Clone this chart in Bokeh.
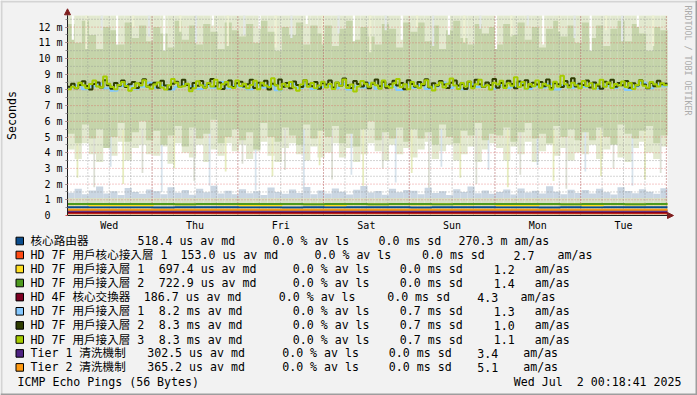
import math
from bokeh.plotting import figure
from bokeh.models import Range1d, FixedTicker, Arrow, NormalHead, LinearAxis
from bokeh.core.properties import value
from bokeh.embed import file_html
from bokeh.resources import INLINE

# ---------------- data ----------------
# time axis: hours since Wed 2025-06-25 00:00 ; graph spans 7 days ending Wed Jul 2 00:18:41
T_START = 0.3114
T_END = 168.3114
day_names = ["Wed", "Thu", "Fri", "Sat", "Sun", "Mon", "Tue"]
day_noons = [12, 36, 60, 84, 108, 132, 156]
midnights = [24, 48, 72, 96, 120, 144, 168]
six_hours = [6 * k for k in range(1, 29)]

Y_TOP = 12.74
y_ticks = list(range(13))
y_tick_labels = ["0\u00a0\u00a0"] + ["%d m" % v for v in range(1, 13)]
y_half = [0.5 * k for k in range(1, 26)]

SMOKE_DT = 2.0  # hours per smoke bin
sage_lo = [5.2, 4.6, 5.8, 4.9, 5.5, 4.3, 5.0, 5.9, 4.7, 5.3, 6.0, 4.8,
           5.4, 4.5, 5.1, 5.7, 4.4, 5.6, 4.9, 5.2, 6.1, 4.6, 5.0, 5.5,
           4.8, 5.3, 4.2, 5.9, 5.0, 4.7, 5.6, 5.1, 4.5, 5.8, 4.9, 5.4,
           5.0, 5.7, 4.6, 5.2, 4.4, 5.5, 6.0, 4.8, 5.3, 4.9, 5.6, 4.7,
           5.5, 4.9, 5.3, 4.5, 5.8, 5.0, 4.6, 5.4, 5.1, 5.9, 4.8, 5.2,
           5.1, 5.6, 4.7, 5.3, 5.9, 4.9, 5.2, 4.6, 5.7, 5.0, 5.5, 4.8,
           5.3, 4.8, 5.6, 5.0, 4.5, 5.8, 5.2, 4.9, 5.4, 5.7, 4.6, 5.1]
sage_hi = [12.2, 11.0, 12.4, 11.5, 10.6, 12.0, 11.8, 10.9, 12.3, 11.3, 12.1, 11.1,
           12.0, 11.6, 10.7, 12.4, 11.2, 12.1, 10.9, 12.2, 11.7, 10.6, 12.3, 11.8,
           11.4, 12.2, 11.0, 12.4, 11.7, 10.5, 12.0, 11.5, 12.3, 10.9, 12.1, 11.6,
           12.1, 10.8, 11.9, 12.4, 11.2, 12.0, 11.4, 10.9, 12.2, 11.9, 10.7, 12.3,
           11.7, 12.3, 11.1, 12.1, 10.6, 11.8, 12.4, 11.3, 10.9, 12.2, 11.6, 12.0,
           10.9, 12.2, 11.5, 12.3, 11.2, 12.0, 10.7, 11.9, 12.4, 11.4, 12.1, 11.0,
           12.3, 11.3, 12.1, 10.8, 11.9, 12.4, 11.1, 12.2, 11.6, 10.5, 12.0, 11.8]
pale_lo = [4.2, 3.6, 4.6, 3.9, 3.4, 4.4, 3.8, 4.7, 3.5, 4.3, 4.5, 3.9,
           3.8, 4.4, 3.3, 4.6, 4.0, 3.7, 4.5, 3.4, 4.2, 3.8, 4.6, 4.1,
           4.5, 3.6, 4.1, 4.7, 3.8, 3.4, 4.3, 4.6, 3.9, 3.5, 4.4, 3.7,
           4.0, 4.6, 3.7, 4.3, 3.4, 3.9, 4.6, 4.1, 3.5, 4.5, 3.9, 4.3,
           3.7, 4.2, 4.7, 3.6, 4.1, 4.5, 3.5, 3.9, 4.4, 3.4, 4.2, 4.6,
           4.3, 3.5, 4.4, 3.9, 4.7, 3.4, 4.1, 4.5, 3.8, 4.3, 3.5, 4.0,
           3.9, 4.5, 3.6, 4.2, 4.6, 3.7, 3.4, 4.3, 4.7, 4.0, 3.6, 4.4]
# thin deep spikes of the light smoke (time in h, lowest value in ms)
spike_t = [3.1, 7.8, 12.4, 15.9, 21.3, 26.7, 30.2, 35.8, 40.1, 44.6, 49.3, 53.0, 57.7,
           61.2, 66.5, 70.9, 74.4, 79.8, 83.1, 88.6, 92.2, 96.7, 101.5, 105.0, 110.3,
           114.8, 118.2, 123.6, 127.1, 131.9, 136.4, 140.0, 145.3, 149.7, 153.2, 158.5,
           162.0, 166.4]
spike_lo = [2.4, 1.8, 3.1, 2.0, 2.7, 1.5, 3.0, 2.2, 1.9, 2.8, 3.3, 1.6, 2.5,
            2.9, 1.7, 3.2, 2.3, 2.6, 1.9, 3.0, 2.1, 2.7, 1.6, 3.1, 2.4,
            2.0, 2.9, 1.8, 2.6, 3.2, 2.2, 1.7, 2.8, 2.5, 3.0, 1.9,
            2.3, 2.7]
# thin light gaps in the upper smoke (time in h, lower end in ms)
gap_t = [1.8, 5.6, 9.9, 14.2, 18.7, 23.1, 27.4, 31.9, 36.3, 41.0, 45.2, 49.8, 54.1,
         58.6, 63.0, 67.3, 71.8, 76.2, 80.5, 85.1, 89.4, 93.9, 98.2, 102.7, 107.1,
         111.4, 115.9, 120.3, 124.6, 129.2, 133.5, 138.0, 142.3, 146.8, 151.1, 155.6,
         160.0, 164.3]
gap_lo = [11.2, 10.6, 11.8, 10.9, 12.0, 11.4, 10.5, 11.7, 11.0, 12.1, 10.8, 11.5, 11.9,
          10.7, 11.3, 12.2, 10.9, 11.6, 11.1, 10.4, 11.8, 11.2, 12.0, 10.8, 11.5,
          11.0, 11.9, 10.6, 11.4, 12.1, 10.9, 11.7, 11.3, 10.5, 11.8, 11.1,
          12.0, 10.8]
low_smoke_top = 1.12
blue_hi = [1.45, 1.70, 1.35, 1.60, 1.85, 1.40, 1.55, 1.30, 1.75, 1.50, 1.38, 1.65,
           1.55, 1.35, 1.80, 1.45, 1.62, 1.32, 1.70, 1.48, 1.90, 1.40, 1.58, 1.36,
           1.68, 1.42, 1.55, 1.30, 1.78, 1.50, 1.38, 1.66, 1.44, 1.82, 1.35, 1.60,
           1.40, 1.72, 1.52, 1.34, 1.64, 1.88, 1.46, 1.56, 1.32, 1.70, 1.48, 1.62,
           1.58, 1.36, 1.76, 1.44, 1.54, 1.30, 1.68, 1.50, 1.84, 1.42, 1.60, 1.38,
           1.50, 1.66, 1.34, 1.72, 1.46, 1.58, 1.40, 1.86, 1.52, 1.36, 1.64, 1.44,
           1.62, 1.40, 1.70, 1.48, 1.34, 1.80, 1.56, 1.42, 1.68, 1.52, 1.38, 1.74]

# medians (ms) of the three ~8 ms targets
MED1_DT = 2.0
med_acc1 = [8.15, 8.30, 8.05, 8.22, 8.40, 8.10, 7.95, 8.25, 8.35, 8.08, 8.20, 8.45,
            8.12, 8.28, 8.02, 8.18, 8.36, 8.24, 8.06, 8.32, 8.14, 8.50, 8.10, 8.26,
            8.20, 8.04, 8.34, 8.16, 8.28, 7.98, 8.22, 8.40, 8.12, 8.30, 8.06, 8.18,
            8.26, 8.10, 8.38, 8.02, 8.24, 8.16, 8.44, 8.08, 8.30, 8.20, 8.00, 8.34,
            8.14, 8.32, 8.06, 8.22, 8.48, 8.12, 8.26, 8.04, 8.36, 8.18, 8.28, 8.08,
            8.30, 8.12, 8.20, 8.42, 8.06, 8.24, 8.16, 8.38, 8.02, 8.28, 8.14, 8.34,
            8.18, 8.40, 8.08, 8.26, 8.12, 8.32, 8.00, 8.22, 8.46, 8.10, 8.36, 8.24]
MED_DT = 1.0
med_acc2 = [8.20, 8.40, 8.10, 8.32, 8.55, 8.25, 8.02, 8.38, 8.48, 8.15, 8.62, 8.30,
            8.08, 8.44, 8.26, 8.60, 8.18, 8.36, 8.50, 8.12, 8.42, 8.68, 8.22, 8.34,
            8.46, 8.14, 8.58, 8.28, 8.04, 8.40, 8.52, 8.20, 8.64, 8.32, 8.10, 8.44,
            8.26, 8.56, 8.16, 8.38, 8.70, 8.24, 8.48, 8.06, 8.34, 8.60, 8.18, 8.42,
            8.52, 8.22, 8.36, 8.64, 8.12, 8.46, 8.28, 8.58, 8.02, 8.40, 8.30, 8.66,
            8.20, 8.44, 8.10, 8.54, 8.32, 8.18, 8.62, 8.36, 8.24, 8.50, 8.08, 8.42,
            8.34, 8.60, 8.16, 8.46, 8.26, 8.72, 8.30, 8.12, 8.56, 8.38, 8.22, 8.48,
            8.10, 8.40, 8.66, 8.24, 8.52, 8.14, 8.36, 8.58, 8.28, 8.44, 8.04, 8.62,
            8.38, 8.20, 8.50, 8.30, 8.68, 8.16, 8.42, 8.26, 8.56, 8.34, 8.12, 8.46,
            8.60, 8.28, 8.40, 8.06, 8.52, 8.22, 8.64, 8.36, 8.18, 8.48, 8.32, 8.70,
            8.14, 8.44, 8.26, 8.58, 8.38, 8.10, 8.54, 8.30, 8.62, 8.20, 8.46, 8.34,
            8.50, 8.24, 8.66, 8.12, 8.42, 8.36, 8.18, 8.56, 8.28, 8.74, 8.22, 8.40,
            8.32, 8.60, 8.16, 8.48, 8.26, 8.08, 8.52, 8.38, 8.64, 8.20, 8.44, 8.30,
            8.56, 8.14, 8.42, 8.28, 8.62, 8.34, 8.10, 8.46, 8.24, 8.58, 8.36, 8.40]
med_acc3 = [8.05, 8.20, 8.12, 8.45, 8.30, 8.10, 8.38, 8.60, 8.22, 8.15, 8.85, 8.40,
            8.18, 8.05, 8.32, 8.50, 8.25, 7.95, 8.12, 8.42, 8.28, 8.62, 8.20, 8.08,
            8.35, 8.48, 8.15, 8.02, 8.30, 8.70, 8.45, 8.18, 8.24, 8.40, 7.92, 8.10,
            8.55, 8.30, 8.14, 8.44, 8.22, 8.65, 8.08, 8.36, 8.50, 8.20, 8.12, 8.60,
            8.25, 8.40, 8.10, 8.32, 8.58, 8.05, 8.45, 8.28, 8.18, 8.75, 8.30, 8.02,
            8.40, 8.22, 8.50, 8.15, 7.95, 8.35, 8.62, 8.20, 8.44, 8.10, 8.28, 8.52,
            8.16, 8.38, 8.06, 8.48, 8.26, 8.66, 8.12, 8.34, 7.90, 8.22, 8.56, 8.40,
            8.20, 8.46, 8.30, 8.08, 8.60, 8.24, 8.14, 8.42, 8.70, 8.18, 8.36, 8.04,
            8.50, 8.26, 8.12, 8.38, 8.62, 8.20, 7.96, 8.32, 8.48, 8.16, 8.40, 8.72,
            8.28, 8.06, 8.44, 8.22, 8.54, 8.10, 8.36, 8.64, 8.20, 8.30, 8.02, 8.46,
            8.34, 8.58, 8.12, 8.42, 8.26, 8.80, 8.18, 8.50, 8.08, 8.38, 8.24, 8.60,
            8.14, 8.40, 8.28, 8.02, 8.52, 8.22, 8.90, 8.36, 8.16, 8.46, 8.30, 8.10,
            8.56, 8.24, 8.42, 8.08, 8.34, 8.64, 8.20, 8.48, 8.12, 8.38, 8.28, 8.54,
            8.18, 8.44, 8.06, 8.32, 8.60, 8.26, 8.14, 8.50, 8.36, 8.22, 8.42, 8.30]

# medians (ms) of the sub-ms targets, 6 h bins
LOW_DT = 6.0
med_core = [0.52, 0.52, 0.53, 0.52, 0.51, 0.52, 0.52, 0.53, 0.52, 0.52, 0.51, 0.52, 0.52, 0.53,
            0.52, 0.52, 0.51, 0.52, 0.52, 0.53, 0.52, 0.52, 0.51, 0.52, 0.52, 0.53, 0.52, 0.52]
med_hd7f_core1 = [0.15] * 28
med_hd7f_acc1 = [0.71, 0.66, 0.66, 0.66, 0.71, 0.70, 0.71, 0.70, 0.66, 0.66, 0.71, 0.70, 0.66, 0.71,
                 0.70, 0.71, 0.70, 0.71, 0.70, 0.71, 0.66, 0.66, 0.71, 0.70, 0.66, 0.71, 0.70, 0.71]
med_hd7f_acc2 = [0.73, 0.74, 0.74, 0.74, 0.73, 0.72, 0.73, 0.73, 0.74, 0.74, 0.73, 0.72, 0.74, 0.73,
                 0.72, 0.73, 0.73, 0.72, 0.73, 0.73, 0.74, 0.74, 0.73, 0.72, 0.74, 0.73, 0.72, 0.73]
med_hd4f = [0.19] * 28
med_tier1 = [0.30] * 28
med_tier2 = [0.37] * 28

target_names = ["核心路由器", "HD 7F 用戶核心接入層 1", "HD 7F 用戶接入層 1", "HD 7F 用戶接入層 2",
                "HD 4F 核心交換器", "HD 7F 用戶接入層 1", "HD 7F 用戶接入層 2", "HD 7F 用戶接入層 3",
                "Tier 1 清洗機制", "Tier 2 清洗機制"]
legend_stats = [
    ["518.4 us av md", "0.0 % av ls", "0.0 ms sd", "270.3 m am/as"],
    ["153.0 us av md", "0.0 % av ls", "0.0 ms sd", "2.7", "am/as"],
    ["697.4 us av md", "0.0 % av ls", "0.0 ms sd", "1.2", "am/as"],
    ["722.9 us av md", "0.0 % av ls", "0.0 ms sd", "1.4", "am/as"],
    ["186.7 us av md", "0.0 % av ls", "0.0 ms sd", "4.3", "am/as"],
    ["8.2 ms av md", "0.0 % av ls", "0.7 ms sd", "1.3", "am/as"],
    ["8.3 ms av md", "0.0 % av ls", "0.7 ms sd", "1.0", "am/as"],
    ["8.3 ms av md", "0.0 % av ls", "0.7 ms sd", "1.1", "am/as"],
    ["302.5 us av md", "0.0 % av ls", "0.0 ms sd", "3.4", "am/as"],
    ["365.2 us av md", "0.0 % av ls", "0.0 ms sd", "5.1", "am/as"],
]
footer_left = "ICMP Echo Pings (56 Bytes)"
footer_right = ["Wed Jul", "2 00:18:41 2025"]
watermark = "RRDTOOL / TOBI OETIKER"

# ---------------- styles / layout ----------------
colors = ["#0A4C8C", "#FF4A12", "#FFDF22", "#4E9A1E", "#7E0022",
          "#84C8FF", "#2F3D00", "#A6CC00", "#4E2282", "#FF9A12"]
MONO = "DejaVu Sans Mono"
LEG_FONT = "DejaVu Sans Mono, Noto Sans CJK TC"
BG = "#F2F2F2"
W, H = 697, 395
H_PER_PX = 168.0 / 600.0        # canvas: 600 px for 7 days
PX_PER_MS = 200.0 / Y_TOP       # canvas: 200 px high
CANVAS_L, CANVAS_B = 67, 215    # pixel position of the canvas corner


def hx(px):   # pixel column -> hours
    return T_START + (px - CANVAS_L) * H_PER_PX


def my(py):   # pixel row -> ms
    return (CANVAS_B - py) / PX_PER_MS


p = figure(width=W, height=H, x_range=Range1d(hx(0), hx(W)), y_range=Range1d(my(H), my(0)),
           output_backend="svg", toolbar_location=None, x_axis_location=None, y_axis_location=None,
           min_border_left=0, min_border_right=0, min_border_top=0, min_border_bottom=0)
p.border_fill_color = BG
p.background_fill_color = BG
p.outline_line_color = None
p.xgrid.visible = False
p.ygrid.visible = False

# image border
p.quad(left=[hx(0), hx(0), hx(W - 2), hx(0)], right=[hx(W), hx(2), hx(W), hx(W)],
       bottom=[my(2), my(H), my(H), my(H)], top=[my(0), my(0), my(0), my(H - 2)],
       fill_color=["#D4D4D4", "#D4D4D4", "#9E9E9E", "#9E9E9E"], line_color=None)

# canvas
p.quad(left=T_START, right=T_END, bottom=0, top=Y_TOP, fill_color="#FFFFFF", line_color=None)

# smoke
nb = len(sage_lo)
left = [T_START + SMOKE_DT * i for i in range(nb)]
right = [T_START + SMOKE_DT * (i + 1) for i in range(nb)]
p.quad(left=left, right=right, bottom=pale_lo, top=[Y_TOP] * nb, fill_color="#E2E9CF", line_color=None)
spike_cols = ["#E6ECBE", "#DCDFD4", "#D7E3EC"]
p.vbar(x=spike_t, width=0.5, bottom=spike_lo, top=[5.5] * len(spike_t),
       fill_color=[spike_cols[i % 3] for i in range(len(spike_t))], line_color=None)
p.quad(left=left, right=right, bottom=sage_lo, top=[min(v, Y_TOP) for v in sage_hi],
       fill_color="#C5D4AA", line_color=None)
gap_cols = ["#FFFFFF", "#EEF2D4", "#E2E8E6"]
p.vbar(x=gap_t, width=0.6, bottom=gap_lo, top=[Y_TOP] * len(gap_t),
       fill_color=[gap_cols[i % 3] for i in range(len(gap_t))], line_color=None)
p.quad(left=left, right=right, bottom=[low_smoke_top] * nb, top=blue_hi, fill_color="#CAD6E2", line_color=None)
p.quad(left=left, right=right, bottom=[0] * nb, top=[low_smoke_top] * nb, fill_color="#D8DFC6", line_color=None)

# grid (dotted)
minor_kw = dict(line_color="#8F8F8F", line_alpha=0.75, line_dash="1 2", line_width=1)
major_kw = dict(line_color="#DE4F4F", line_alpha=0.6, line_dash="1 2", line_width=1)
yh_minor = [v for v in y_half if v != int(v)]
p.segment(x0=six_hours, y0=[0] * len(six_hours), x1=six_hours, y1=[Y_TOP] * len(six_hours), **minor_kw)
p.segment(x0=[T_START] * len(yh_minor), y0=yh_minor, x1=[T_END] * len(yh_minor), y1=yh_minor, **minor_kw)
p.segment(x0=midnights, y0=[0] * len(midnights), x1=midnights, y1=[Y_TOP] * len(midnights), **major_kw)
p.segment(x0=[T_START] * 12, y0=y_ticks[1:], x1=[T_END] * 12, y1=y_ticks[1:], **major_kw)


def step_xy(vals, dt):
    xs = [T_START + dt * i for i in range(len(vals) + 1)]
    ys = list(vals) + [vals[-1]]
    return xs, ys


series = [(med_core, LOW_DT), (med_hd7f_core1, LOW_DT), (med_hd7f_acc1, LOW_DT), (med_hd7f_acc2, LOW_DT),
          (med_hd4f, LOW_DT), (med_acc1, MED1_DT), (med_acc2, MED_DT), (med_acc3, MED_DT),
          (med_tier1, LOW_DT), (med_tier2, LOW_DT)]
for (vals, dt), c in zip(series, colors):
    xs, ys = step_xy(vals, dt)
    p.step(xs, ys, mode="after", line_color=c, line_width=2)

# watermark
p.text(x=[hx(687.5)], y=[my(60)], text=[watermark], angle=-math.pi / 2, text_align="center",
       text_baseline="middle", text_font=value(MONO), text_font_size=value("8.3px"), text_color="#ABABAB")

# axes (drawn at the canvas edges)
xa = LinearAxis(fixed_location=0, ticker=FixedTicker(ticks=day_noons), bounds=(T_START, T_END))
xa.major_label_overrides = {t: d for t, d in zip(day_noons, day_names)}
xa.major_tick_out = 0
xa.major_tick_in = 0
xa.minor_tick_out = 0
xa.minor_tick_in = 0
xa.major_label_standoff = 4
xa.major_label_text_font = MONO
xa.major_label_text_font_size = "10px"
xa.major_label_text_color = "#000000"
xa.axis_line_color = "#1F1F1F"
p.add_layout(xa, "below")

ya = LinearAxis(fixed_location=T_START, ticker=FixedTicker(ticks=y_ticks, minor_ticks=y_half),
                bounds=(0, Y_TOP))
ya.major_label_overrides = {t: s for t, s in zip(y_ticks, y_tick_labels)}
ya.major_tick_out = 2
ya.major_tick_in = 0
ya.minor_tick_out = 2
ya.minor_tick_in = 0
ya.major_tick_line_color = "#DE4F4F"
ya.minor_tick_line_color = "#8F8F8F"
ya.major_label_standoff = 3
ya.major_label_text_font = MONO
ya.major_label_text_font_size = "10px"
ya.major_label_text_color = "#000000"
ya.axis_line_color = "#1F1F1F"
ya.axis_label = "Seconds"
ya.axis_label_text_font = MONO
ya.axis_label_text_font_size = "11.6px"
ya.axis_label_text_font_style = "normal"
ya.axis_label_text_color = "#000000"
ya.axis_label_standoff = 16
p.add_layout(ya, "left")

p.add_layout(Arrow(end=NormalHead(size=6, fill_color="#801F1F", line_color="#801F1F"),
                   x_start=T_END, y_start=0, x_end=hx(673), y_end=0,
                   line_color="#1F1F1F", line_width=1))
p.add_layout(Arrow(end=NormalHead(size=6, fill_color="#801F1F", line_color="#801F1F"),
                   x_start=T_START, y_start=Y_TOP, x_end=T_START, y_end=my(8.3),
                   line_color="#1F1F1F", line_width=1))

# legend (positions given in image pixels)
row_y = [240.5, 254.5, 268.5, 282.5, 296.6, 310.8, 324.9, 339.0, 352.9, 366.9]
name_x = 30
stat_x = [
    [137, 272, 378, 458],
    [180, 314, 421.5, 513, 557],
    [158.3, 292.3, 399.3, 493.3, 534.3],
    [158.3, 292.3, 399.3, 493.3, 534.3],
    [143.3, 278.3, 386.7, 476.7, 520],
    [158.3, 292.3, 399.3, 493.3, 534.3],
    [158.3, 292.3, 399.3, 493.3, 534.3],
    [158.3, 292.3, 399.3, 493.3, 534.3],
    [146.7, 281.7, 388.3, 476.7, 522.7],
    [146.7, 281.7, 388.3, 476.7, 522.7],
]
tx, ty, tt = [], [], []
for i in range(len(target_names)):
    tx.append(name_x)
    ty.append(row_y[i])
    tt.append(target_names[i])
    for s, x in zip(legend_stats[i], stat_x[i]):
        tx.append(x)
        ty.append(row_y[i])
        tt.append(s)
tx += [17, 513.3, 576.3]
ty += [381.0] * 3
tt += [footer_left] + footer_right
p.text(x=[hx(v) for v in tx], y=[my(v) for v in ty], text=tt, text_align="left", text_baseline="middle",
       text_font=value(LEG_FONT), text_font_size=value("11.6px"), text_color="#000000")
p.quad(left=[hx(15.5)] * len(colors), right=[hx(23)] * len(colors),
       bottom=[my(v + 3.8) for v in row_y], top=[my(v - 3.8) for v in row_y],
       fill_color=colors, line_color="#000000", line_width=1)

open("out.html", "w").write(file_html(p, INLINE))
